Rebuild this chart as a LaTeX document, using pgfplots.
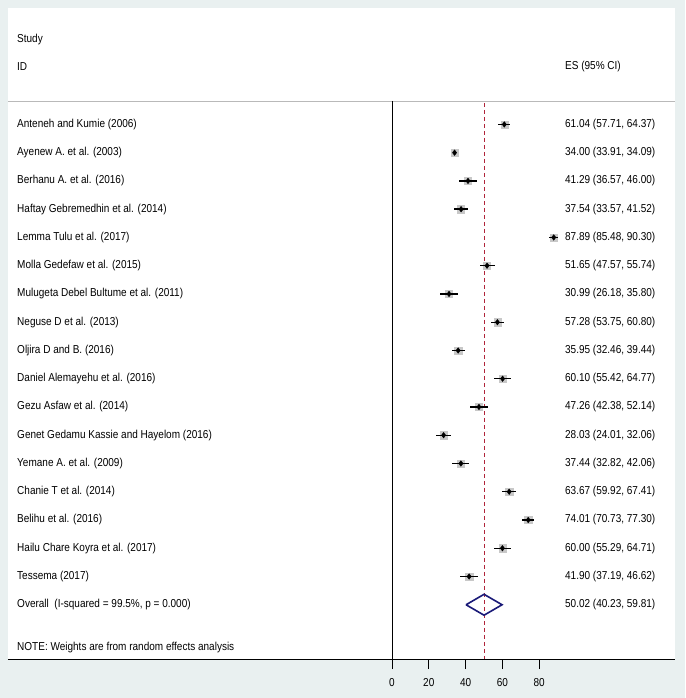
\documentclass[border=0pt]{standalone}
\usepackage{fontspec}
\setmainfont{Liberation Sans}[FakeStretch=0.87]
\usepackage{pgfplots}
\usepackage{pgfplotstable}
\pgfplotsset{compat=1.18}

\definecolor{bgc}{HTML}{E9F0F0}
\definecolor{refred}{HTML}{B0243A}
\definecolor{navyd}{HTML}{1A1A78}
\definecolor{boxgray}{HTML}{C8C8C8}

% row, effect size, lower and upper 95% CI
\pgfplotstableread{
row es lo hi
1 61.04 57.71 64.37
2 34.00 33.91 34.09
3 41.29 36.57 46.00
4 37.54 33.57 41.52
5 87.89 85.48 90.30
6 51.65 47.57 55.74
7 30.99 26.18 35.80
8 57.28 53.75 60.80
9 35.95 32.46 39.44
10 60.10 55.42 64.77
11 47.26 42.38 52.14
12 28.03 24.01 32.06
13 37.44 32.82 42.06
14 63.67 59.92 67.41
15 74.01 70.73 77.30
16 60.00 55.29 64.71
17 41.90 37.19 46.62
}\studies

\newcommand{\fs}{\fontsize{11.5}{13}\selectfont}
\tikzset{lbl/.style={anchor=west, inner sep=0pt, font=\fs}}

\begin{document}
\begin{tikzpicture}
\fill[bgc] (0,0) rectangle (685pt,698pt);
\begin{axis}[
  at={(8pt,39pt)}, anchor=south west,
  scale only axis, width=667pt, height=651pt,
  xmin=-208.7, xmax=153.8, ymin=-3.12, ymax=19.92,
  y dir=reverse,
  axis background/.style={fill=white},
  axis x line*=bottom, axis y line=none,
  axis line style={line width=1pt, black},
  xtick={0,20,40,60,80}, ytick=\empty,
  tick align=outside, major tick length=10pt,
  tick style={line width=0.9pt, black},
  xticklabel style={font=\fs, yshift=-6pt},
  /pgf/number format/assume math mode=true,
  clip=false, clip mode=individual,
]
% header rule, zero line, overall reference line
\addplot[gray!55, line width=0.8pt] coordinates {(-208.7,0.168) (153.8,0.168)};
\addplot[black, line width=1pt] coordinates {(0,0.168) (0,19.92)};
\addplot[refred, line width=1pt, dash pattern=on 4pt off 3pt] coordinates {(50.02,0.24) (50.02,19.92)};

% weight boxes
\addplot[only marks, mark=square*, mark size=3.6pt, boxgray, mark options={draw=boxgray, fill=boxgray}]
  table[x=es, y=row] {\studies};
% CI and point estimates
\addplot[only marks, mark=diamond*, mark size=2.8pt, black,
  error bars/.cd, x dir=both, x explicit, error mark=none,
  error bar style={line width=1.4pt, black}]
  table[x=es, y=row,
    x error minus expr=\thisrow{es}-\thisrow{lo},
    x error plus expr=\thisrow{hi}-\thisrow{es}] {\studies};

% overall diamond
\addplot[navyd, line width=1.6pt] coordinates {(40.23,18) (50.02,17.63) (59.81,18) (50.02,18.37) (40.23,18)};

% text columns
\node[lbl] at (axis cs:-203.8,-1.99) {Study};
\node[lbl] at (axis cs:-203.8,-1.035) {ID};
\node[lbl] at (axis cs:94.0,-1.035) {ES (95\% CI)};

\foreach \name [count=\i] in {
  Anteneh and Kumie (2006),
  Ayenew A. et al. (2003),
  Berhanu A. et al. (2016),
  Haftay Gebremedhin et al. (2014),
  Lemma Tulu et al. (2017),
  Molla Gedefaw et al. (2015),
  Mulugeta Debel Bultume et al. (2011),
  Neguse D et al. (2013),
  Oljira D and B. (2016),
  Daniel Alemayehu et al. (2016),
  Gezu Asfaw et al. (2014),
  Genet Gedamu Kassie and Hayelom (2016),
  Yemane A. et al. (2009),
  Chanie T et al. (2014),
  Belihu et al. (2016),
  Hailu Chare Koyra et al. (2017),
  Tessema (2017),
  {Overall\ \ (I-squared = 99.5\%, p = 0.000)}}
{
  \edef\temp{\noexpand\node[lbl] at (axis cs:-203.8,\i) {\unexpanded\expandafter{\name}};}
  \temp
}

\foreach \txt [count=\i] in {
  {61.04 (57.71, 64.37)},
  {34.00 (33.91, 34.09)},
  {41.29 (36.57, 46.00)},
  {37.54 (33.57, 41.52)},
  {87.89 (85.48, 90.30)},
  {51.65 (47.57, 55.74)},
  {30.99 (26.18, 35.80)},
  {57.28 (53.75, 60.80)},
  {35.95 (32.46, 39.44)},
  {60.10 (55.42, 64.77)},
  {47.26 (42.38, 52.14)},
  {28.03 (24.01, 32.06)},
  {37.44 (32.82, 42.06)},
  {63.67 (59.92, 67.41)},
  {74.01 (70.73, 77.30)},
  {60.00 (55.29, 64.71)},
  {41.90 (37.19, 46.62)},
  {50.02 (40.23, 59.81)}}
{
  \edef\temp{\noexpand\node[lbl] at (axis cs:94.0,\i) {\unexpanded\expandafter{\txt}};}
  \temp
}

\node[lbl] at (axis cs:-203.8,19.53) {NOTE: Weights are from random effects analysis};
\end{axis}
\end{tikzpicture}
\end{document}
